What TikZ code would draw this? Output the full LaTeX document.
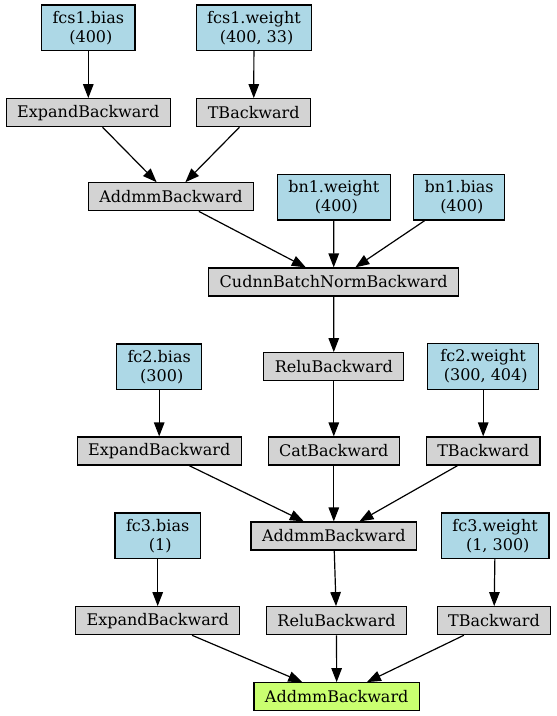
\documentclass[tikz,border=0pt]{standalone}
\usepackage{fontspec}
\setmainfont{DejaVu Serif}
\usetikzlibrary{positioning, arrows.meta}

\definecolor{paramblue}{HTML}{ADD8E6}
\definecolor{opgray}{HTML}{D3D3D3}
\definecolor{outgreen}{HTML}{CAFF70}

% second line of a parameter label, with its leading space
\newcommand{\psize}[1]{\hspace*{.32em}(#1)}

\begin{document}
\begin{tikzpicture}[x=1pt,y=-1pt,font=\fontsize{16}{19}\selectfont,
  op/.style={draw, rectangle, fill=opgray, line width=1.2pt, inner xsep=11pt, inner ysep=0pt, minimum height=28pt},
  param/.style={op, fill=paramblue, align=center, minimum height=45.5pt},
  result/.style={op, fill=outgreen},
  edge/.style={line width=1.2pt, -{Triangle[length=14pt,width=10.5pt]}}]

\useasboundingbox (0,0) rectangle (557,716);

% Parameters
\node[param] (fcsbias) at (88.3,27.8) {fcs1.bias\\\psize{400}};
\node[param] (fcsweight) at (254,27.8) {fcs1.weight\\\psize{400, 33}};
\node[param] (bnweight) at (333.8,197.3) {bn1.weight\\\psize{400}};
\node[param] (bnbias) at (459.2,197.3) {bn1.bias\\\psize{400}};
\node[param] (fctwobias) at (159.2,366.7) {fc2.bias\\\psize{300}};
\node[param] (fctwoweight) at (483.2,366.5) {fc2.weight\\\psize{300, 404}};
\node[param] (fcthreebias) at (157.7,535.8) {fc3.bias\\\psize{1}};
\node[param] (fcthreeweight) at (495.2,535.8) {fc3.weight\\\psize{1, 300}};

% Backward ops
\node[op] (expandA) at (88.3,112.7) {ExpandBackward};
\node[op] (tA) at (253.7,112.7) {TBackward};
\node[op] (addmmA) at (171,196.8) {AddmmBackward};
\node[op] (cudnn) at (333.7,282) {CudnnBatchNormBackward};
\node[op] (reluA) at (333.8,366.7) {ReluBackward};
\node[op] (expandB) at (159.2,451) {ExpandBackward};
\node[op] (cat) at (333.8,451) {CatBackward};
\node[op] (tB) at (483.2,451) {TBackward};
\node[op] (addmmB) at (333.8,536) {AddmmBackward};
\node[op] (expandC) at (157.7,620.7) {ExpandBackward};
\node[op] (reluB) at (336.5,620.7) {ReluBackward};
\node[op] (tC) at (494,620.7) {TBackward};
\node[result] (addmmC) at (336.7,696.7) {AddmmBackward};

% Edges
\draw[edge] (fcsbias) -- (expandA);
\draw[edge] (fcsweight) -- (tA);
\draw[edge] (expandA) -- (addmmA);
\draw[edge] (tA) -- (addmmA);
\draw[edge] (addmmA) -- (cudnn);
\draw[edge] (bnweight) -- (cudnn);
\draw[edge] (bnbias) -- (cudnn);
\draw[edge] (cudnn) -- (reluA);
\draw[edge] (reluA) -- (cat);
\draw[edge] (fctwobias) -- (expandB);
\draw[edge] (fctwoweight) -- (tB);
\draw[edge] (expandB) -- (addmmB);
\draw[edge] (cat) -- (addmmB);
\draw[edge] (tB) -- (addmmB);
\draw[edge] (addmmB) -- (reluB);
\draw[edge] (fcthreebias) -- (expandC);
\draw[edge] (fcthreeweight) -- (tC);
\draw[edge] (expandC) -- (addmmC);
\draw[edge] (reluB) -- (addmmC);
\draw[edge] (tC) -- (addmmC);

\end{tikzpicture}
\end{document}
